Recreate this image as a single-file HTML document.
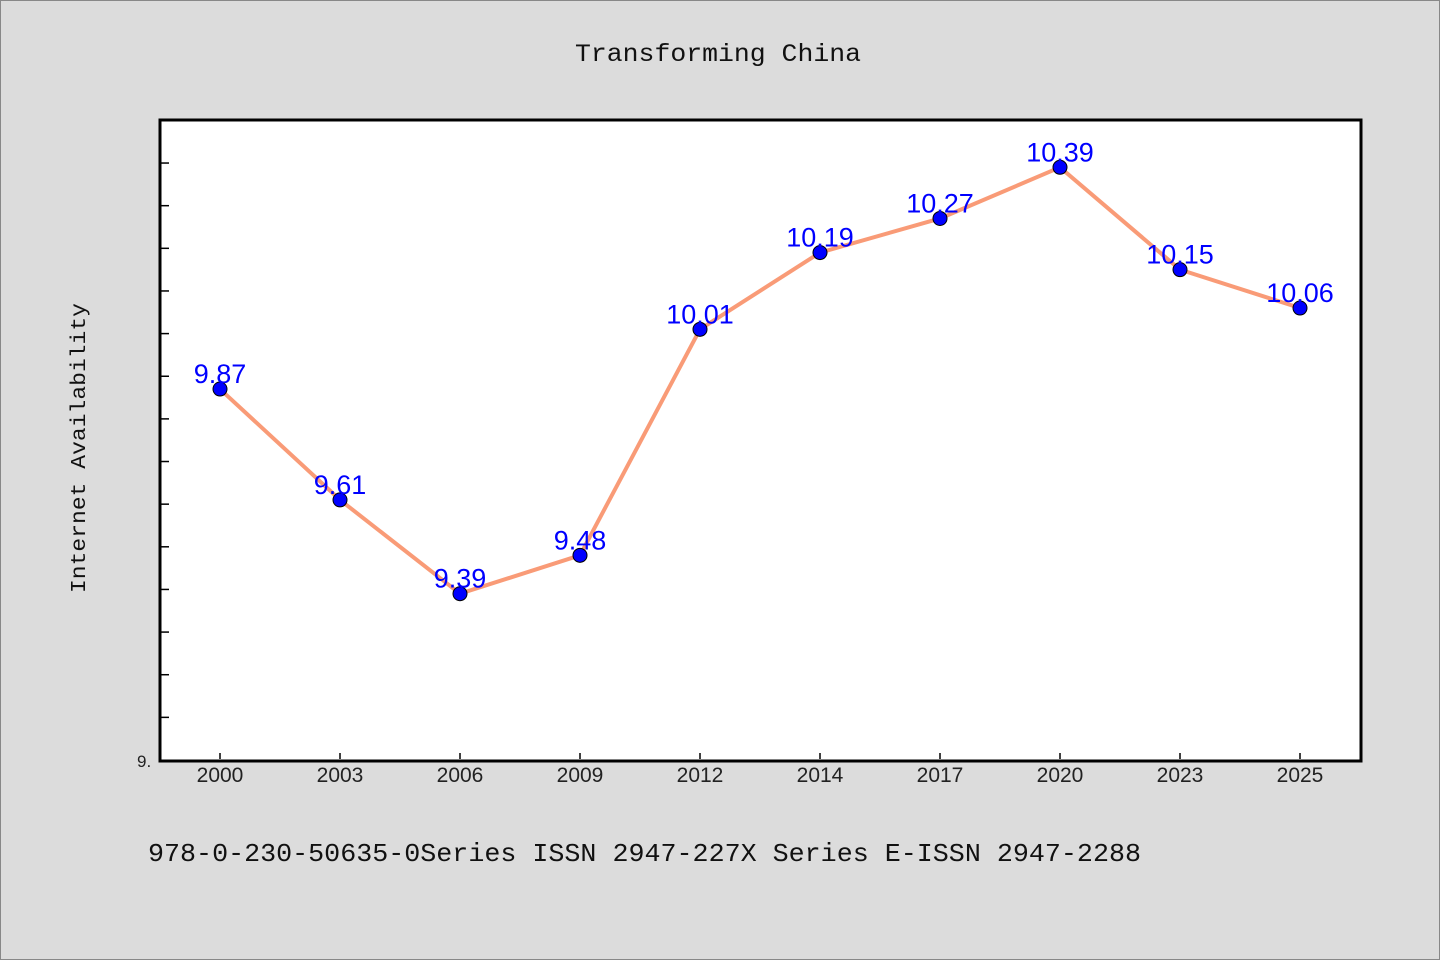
<!DOCTYPE html>
<html><head><meta charset="utf-8"><style>
html,body{margin:0;background:#dcdcdc;overflow:hidden;width:1440px;height:960px;}
svg{display:block;}
.mono{font-family:"WenQuanYi Zen Hei","Liberation Mono",monospace;}
.sans{font-family:"Liberation Sans","WenQuanYi Zen Hei",sans-serif;}
</style></head><body>
<svg width="1440" height="960" xmlns="http://www.w3.org/2000/svg">
<rect x="0.5" y="0.5" width="1439" height="959" fill="#dcdcdc" stroke="#888"/>
<text class="mono" x="575" y="61" font-size="25" textLength="286" lengthAdjust="spacingAndGlyphs" fill="#111">Transforming China</text>
<rect x="160" y="120" width="1201" height="641" fill="#fff" stroke="#000" stroke-width="3"/>
<text class="mono" transform="translate(85,448) rotate(-90)" font-size="21" textLength="290" lengthAdjust="spacingAndGlyphs" text-anchor="middle" fill="#111">Internet Availability</text>
<text class="sans" x="137" y="767" font-size="17" fill="#222">9.</text>
<text class="mono" x="148" y="861" font-size="26" textLength="993" lengthAdjust="spacingAndGlyphs" fill="#111">978-0-230-50635-0Series ISSN 2947-227X Series E-ISSN 2947-2288</text>
<g id="ticks"></g><g id="marks"></g>
</svg>
<script>
const categories=["2000","2003","2006","2009","2012","2014","2017","2020","2023","2025"];
const values=[9.87,9.61,9.39,9.48,10.01,10.19,10.27,10.39,10.15,10.06];
const labels=["9.87","9.61","9.39","9.48","10.01","10.19","10.27","10.39","10.15","10.06"];
const yMin=9,yMax=10.5,yStep=0.1;
const NS="http://www.w3.org/2000/svg";
const py0=760,py1=120;
const xs=i=>220+i*(1080/(categories.length-1));
const y=v=>py0-(v-yMin)*426.4;
function mk(t,a,p){const e=document.createElementNS(NS,t);for(const k in a)e.setAttribute(k,a[k]);p.appendChild(e);return e;}
const tk=document.getElementById('ticks'),mg=document.getElementById('marks');
for(let v=yMin+yStep;v<yMax;v+=yStep){const yy=y(v);if(yy<py1+5)break;
const l=mk('line',{x1:161,x2:169,y1:yy,y2:yy,stroke:'#000','stroke-width':1.5},tk);

}
categories.forEach((c,i)=>{const l=mk('line',{x1:xs(i),x2:xs(i),y1:759,y2:753,stroke:'#000','stroke-width':1.5},tk);


const t=mk('text',{x:xs(i),y:782,'font-size':21,'text-anchor':'middle',fill:'#222',class:'sans'},tk);t.textContent=c;

});
const pl=mk('polyline',{points:values.map((v,i)=>xs(i)+','+y(v)).join(' '),fill:'none',stroke:'#f99b77','stroke-width':4},mg);


values.forEach((v,i)=>{const c=mk('circle',{cx:xs(i),cy:y(v),r:7,fill:'#0000ff',stroke:'#000','stroke-width':1},mg);


const t=mk('text',{x:xs(i),y:y(v)-6,'font-size':27,'text-anchor':'middle',fill:'#0000ff',class:'sans'},mg);t.textContent=labels[i];

});
</script>
</body></html>
